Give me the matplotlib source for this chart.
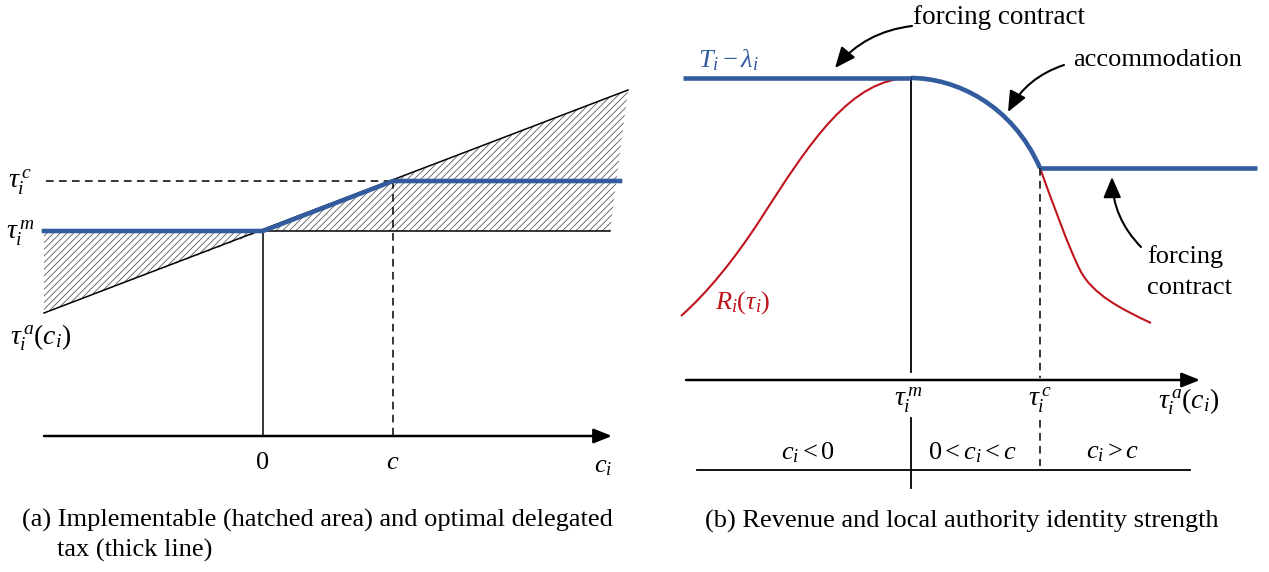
import numpy as np
import matplotlib
matplotlib.use("Agg")
import matplotlib.pyplot as plt
from matplotlib.path import Path
from matplotlib.patches import PathPatch

plt.rcParams['font.family'] = ['Liberation Serif', 'DejaVu Serif']
plt.rcParams['mathtext.fontset'] = 'custom'
plt.rcParams['mathtext.rm'] = 'Liberation Serif'
plt.rcParams['mathtext.it'] = 'Liberation Serif:italic'
plt.rcParams['hatch.linewidth'] = 0.55
plt.rcParams['hatch.color'] = '#4d4d4d'

BLUE = '#335c9e'
RED = '#c0141c'
FS = 19

# ---- panel (a) schematic, picture coords (x right, y down) ----
a_ci_axis = [44, 612]            # c_i axis extent
a_axis_y = 436
a_zero_x, a_c_x = 263, 393       # c_i = 0 and c_i = c
a_tau_m, a_tau_c = 231, 181      # tau_i^m, tau_i^c levels
a_taua_x = [44, 628]             # tau_i^a(c_i) line
a_taua_y = [313, 90]
a_opt_x = [44, 263, 393, 620]    # optimal delegated tax (thick)
a_opt_y = [231, 231, 181, 181]
a_hatch_left_x = [44, 44, 263]
a_hatch_left_y = [231, 313, 231]
a_hatch_right_x = [263, 628, 610]
a_hatch_right_y = [231, 90, 231]

# ---- panel (b) ----
b_axis_x = [686, 1200]
b_axis_y = 380
b_m_x, b_c_x = 911, 1040
b_base_y = 470
b_base_x = [697, 1190]
b_T_left_x = [683, 911]
b_T_left_y = [78, 78]
b_T_right_x = [1040, 1257]
b_T_right_y = [168, 168]
# cubic Bezier segments: start, control1, control2, end
b_arc = [(911, 78), (955, 78), (1012, 104), (1040, 168)]
b_R_left = [(681, 316), (707, 293), (734, 260), (760, 220),
            (810, 142), (851, 78), (911, 78)]
b_R_right = [(1040, 168), (1052, 201), (1068, 246), (1080, 270),
             (1092, 294), (1121, 309), (1151, 323)]


def bezier(points):
    codes = [Path.MOVETO] + [Path.CURVE4] * (len(points) - 1)
    return Path(points, codes)


fig = plt.figure(figsize=(12.69, 5.72), dpi=100)
ax = fig.add_axes([0, 0, 1, 1])
ax.set_xlim(0, 1269)
ax.set_ylim(572, 0)
ax.axis('off')

# panel (a)
ax.fill(a_hatch_left_x, a_hatch_left_y, facecolor='white', edgecolor='#4d4d4d',
        hatch='/////', linewidth=0)
ax.fill(a_hatch_right_x, a_hatch_right_y, facecolor='white', edgecolor='#4d4d4d',
        hatch='/////', linewidth=0)
ax.plot(a_taua_x, a_taua_y, color='black', lw=1.1)
ax.plot([a_zero_x, 610], [a_tau_m, a_tau_m], color='black', lw=1.1)
ax.plot([a_zero_x, a_zero_x], [a_tau_m, a_axis_y], color='black', lw=1.1)
ax.plot([a_c_x, a_c_x], [a_tau_c, a_axis_y], color='black', lw=1.1,
        linestyle=(0, (5, 3.5)))
ax.plot([46, a_c_x], [a_tau_c, a_tau_c], color='black', lw=1.1,
        linestyle=(0, (5, 3.5)))
ax.plot(a_opt_x, a_opt_y, color=BLUE, lw=3.3, solid_joinstyle='round')
ax.annotate('', xy=(a_ci_axis[1], a_axis_y), xytext=(a_ci_axis[0], a_axis_y),
            arrowprops=dict(arrowstyle='-|>,head_length=0.55,head_width=0.22',
                            lw=1.8, color='black', shrinkA=0, shrinkB=0,
                            mutation_scale=20))

ax.text(20, 182, r'$\tau_i^{\,c}$', fontsize=FS + 1, ha='center', va='center')
ax.text(20, 233, r'$\tau_i^{\,m}$', fontsize=FS + 1, ha='center', va='center')
ax.text(41, 338, r'$\tau_i^{\,a}(c_i)$', fontsize=FS + 1, ha='center', va='center')
ax.text(a_zero_x, 463, '0', fontsize=FS, ha='center', va='center')
ax.text(a_c_x, 463, r'$c$', fontsize=FS, ha='center', va='center')
ax.text(603, 467, r'$c_i$', fontsize=FS, ha='center', va='center')
ax.text(22, 520, '(a) Implementable (hatched area) and optimal delegated',
        fontsize=FS, ha='left', va='center')
ax.text(57, 550, 'tax (thick line)', fontsize=FS, ha='left', va='center')

# panel (b)
ax.add_patch(PathPatch(bezier(b_R_left), facecolor='none', edgecolor=RED, lw=1.5))
ax.add_patch(PathPatch(bezier(b_R_right), facecolor='none', edgecolor=RED, lw=1.5))
ax.plot([b_m_x, b_m_x], [b_T_left_y[0], b_axis_y - 8], color='black', lw=1.3)
ax.plot([b_m_x, b_m_x], [418, 488], color='black', lw=1.3)
ax.plot([b_c_x, b_c_x], [b_T_right_y[0], b_axis_y - 2], color='black', lw=1.1,
        linestyle=(0, (5, 3.5)))
ax.plot([b_c_x, b_c_x], [420, 466], color='black', lw=1.1,
        linestyle=(0, (5, 3.5)))
ax.plot(b_T_left_x, b_T_left_y, color=BLUE, lw=3.3, solid_capstyle='butt')
ax.add_patch(PathPatch(bezier(b_arc), facecolor='none', edgecolor=BLUE, lw=3.3))
ax.plot(b_T_right_x, b_T_right_y, color=BLUE, lw=3.3, solid_capstyle='butt')
ax.plot(b_base_x, [b_base_y, b_base_y], color='black', lw=1.3)
ax.annotate('', xy=(b_axis_x[1], b_axis_y), xytext=(b_axis_x[0], b_axis_y),
            arrowprops=dict(arrowstyle='-|>,head_length=0.55,head_width=0.22',
                            lw=1.8, color='black', shrinkA=0, shrinkB=0,
                            mutation_scale=20))

ax.text(908, 400, r'$\tau_i^{\,m}$', fontsize=FS + 1, ha='center', va='center')
ax.text(1040, 400, r'$\tau_i^{\,c}$', fontsize=FS + 1, ha='center', va='center')
ax.text(1189, 402, r'$\tau_i^{\,a}(c_i)$', fontsize=FS + 1, ha='center', va='center')
ax.text(808, 453, r'$c_i < 0$', fontsize=FS, ha='center', va='center')
ax.text(973, 453, r'$0 < c_i < c$', fontsize=FS, ha='center', va='center')
ax.text(1113, 453, r'$c_i > c$', fontsize=FS, ha='center', va='center')
ax.text(728, 60, r'$T_i - \lambda_i$', fontsize=FS, ha='center', va='center',
        color=BLUE)
ax.text(743, 303, r'$R_i(\tau_i)$', fontsize=FS, ha='center', va='center',
        color=RED)

ax.text(913, 17, 'forcing contract', fontsize=FS + 0.5, ha='left', va='center')
ax.text(1073, 60, 'accommodation', fontsize=FS, ha='left', va='center')
ax.text(1147, 257, 'forcing', fontsize=FS, ha='left', va='center')
ax.text(1147, 288, 'contract', fontsize=FS, ha='left', va='center')
ax.text(962, 521, '(b) Revenue and local authority identity strength',
        fontsize=FS, ha='center', va='center')

arrow_kw = dict(arrowstyle='-|>,head_length=0.7,head_width=0.3', lw=1.5,
                color='black', shrinkA=0, shrinkB=0, mutation_scale=18)
ax.annotate('', xy=(835, 68), xytext=(912, 26),
            arrowprops=dict(connectionstyle='arc3,rad=0.2', **arrow_kw))
ax.annotate('', xy=(1008, 112), xytext=(1064, 65),
            arrowprops=dict(connectionstyle='arc3,rad=0.2', **arrow_kw))
ax.annotate('', xy=(1112, 177), xytext=(1141, 247),
            arrowprops=dict(connectionstyle='arc3,rad=-0.2', **arrow_kw))

fig.savefig('out.png', dpi=100)
